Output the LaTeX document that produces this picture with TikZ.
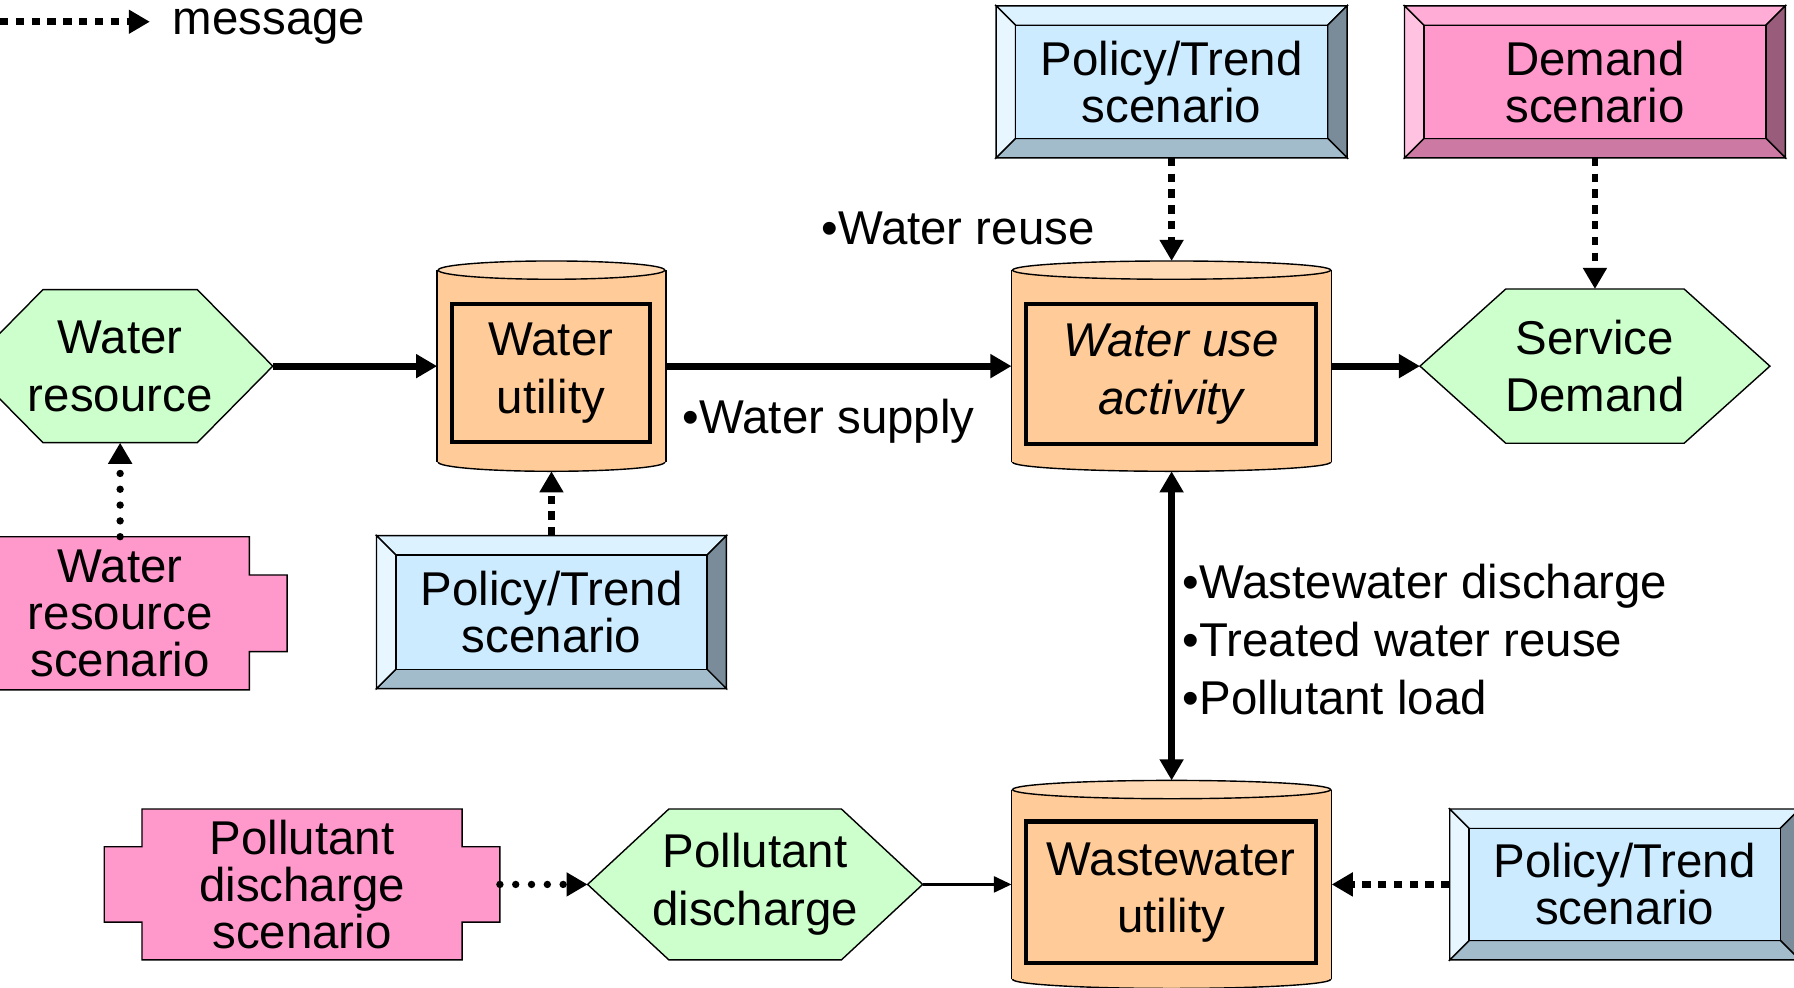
\documentclass[tikz,border=0pt]{standalone}
\usepackage{fontspec}
\setmainfont{Liberation Sans}
\usetikzlibrary{arrows.meta,calc,backgrounds}
\definecolor{hexgreen}{HTML}{CCFFCC}
\definecolor{cylbody}{HTML}{FFCC99}
\definecolor{cyltop}{HTML}{FFDAB5}
\definecolor{pinkbox}{HTML}{FF99CC}
\definecolor{bluA}{HTML}{CCEBFF}
\definecolor{bluB}{HTML}{DDF2FF}
\definecolor{bluC}{HTML}{E8F6FF}
\definecolor{bluD}{HTML}{7A8C99}
\definecolor{bluE}{HTML}{A3BCCC}
\definecolor{pnkA}{HTML}{FF99CC}
\definecolor{pnkB}{HTML}{FFADD6}
\definecolor{pnkC}{HTML}{FFC2E0}
\definecolor{pnkD}{HTML}{995C7A}
\definecolor{pnkE}{HTML}{CC7AA3}
\newlength{\dpx}\setlength{\dpx}{0.011441cm}

\begin{document}
\begin{tikzpicture}[x=0.011441cm, y=-0.011441cm, line width=0.6pt, font=\fontsize{13.5}{16.4}\selectfont]
   \tikzstyle{box}=[inner sep=0pt, align=center]
   \tikzstyle{scen}=[box, font=\fontsize{13.5}{13.4}\selectfont]
   \tikzstyle{inbox}=[box, draw, line width=1.2pt, fill=cylbody]
   \tikzstyle{flow}=[-{Triangle[length=6pt, width=6.5pt]}, line width=2pt]
   \tikzstyle{thinflow}=[-{Triangle[length=5pt, width=4.5pt]}, line width=0.8pt]
   \tikzstyle{msg}=[-{Triangle[length=6pt, width=6.5pt]}, line width=1.9pt, dash pattern=on 2.4pt off 2.1pt]
   \tikzstyle{msgdot}=[-{Triangle[length=6pt, width=6.5pt]}, line width=2.1pt, line cap=round, dash pattern=on 0pt off 4.5pt]
   \useasboundingbox (0,0) rectangle (1568,863);

   % legend
   \coordinate (legstart) at (0,19);
   \coordinate (legtip) at (131,19);
   \draw[msg] (legstart) -- (legtip);
   \node[anchor=base west, inner sep=0pt] (legtext) at (150,30) {message};

   % scenarios
   \node[scen, minimum width=305\dpx, minimum height=131\dpx] (polA) at (1024,71.5) {Policy/Trend\\scenario};
   \node[scen, minimum width=331\dpx, minimum height=131\dpx] (demand) at (1394,71.5) {Demand\\scenario};
   \node[scen, minimum width=304\dpx, minimum height=132\dpx] (polB) at (482,535) {Policy/Trend\\scenario};
   \node[scen, minimum width=304\dpx, minimum height=130\dpx] (polC) at (1420,773) {Policy/Trend\\scenario};
   \node[scen, minimum width=290\dpx, minimum height=132\dpx] (wrs) at (105,536) {Water\\resource\\scenario};
   \node[scen, minimum width=344\dpx, minimum height=130\dpx] (pds) at (264,773) {Pollutant\\discharge\\scenario};

   % hexagons
   \node[box, minimum width=265\dpx, minimum height=132\dpx] (wres) at (105,320) {Water\\resource};
   \node[box, minimum width=304\dpx, minimum height=133\dpx] (sdem) at (1394,320) {Service\\Demand};
   \node[box, minimum width=291\dpx, minimum height=130\dpx] (pdis) at (660,773) {Pollutant\\discharge};

   % cylinders
   \node[box, minimum width=198\dpx, minimum height=182\dpx] (utility) at (482,320) {};
   \node[box, minimum width=278\dpx, minimum height=182\dpx] (activity) at (1024,320) {};
   \node[box, minimum width=278\dpx, minimum height=180\dpx] (wastewater) at (1024,773) {};
   \node[inbox, minimum width=173\dpx, minimum height=121\dpx] (utilitytxt) at (481.5,326) {Water\\utility};
   \node[inbox, minimum width=253\dpx, minimum height=122\dpx, font=\fontsize{13.5}{16.4}\selectfont\itshape] (activitytxt) at (1023.5,327) {Water use\\activity};
   \node[inbox, minimum width=253\dpx, minimum height=124\dpx] (wastewatertxt) at (1023.5,780) {Wastewater\\utility};

   \node[anchor=west, inner sep=0pt] (reuse) at (717,200) {•Water reuse};
   \node[anchor=west, inner sep=0pt] (supply) at (596,368) {•Water supply};
   \node[anchor=west, inner sep=0pt, align=left] (exchange) at (1033,559) {•Wastewater discharge\\•Treated water reuse\\•Pollutant load};

   \draw[flow] (wres) -- (utility);
   \draw[flow] (utility) -- (activity);
   \draw[flow] (activity) -- (sdem);
   \draw[flow, {Triangle[length=6pt, width=6.5pt]}-{Triangle[length=6pt, width=6.5pt]}] (activity) -- (wastewater);
   \draw[thinflow] (pdis) -- (wastewater);
   \draw[msg] (polA) -- (activity);
   \draw[msg] (demand) -- (sdem);
   \draw[msg] (polB) -- (utility);
   \draw[msg] (polC) -- (wastewater);
   \draw[msgdot] (wrs) -- (wres);
   \draw[msgdot] (pds) -- (pdis);

   \begin{scope}[on background layer]
   \foreach \n/\d in {wres/66, sdem/75, pdis/71}
       \draw[fill=hexgreen] (\n.west) -- ($(\n.north west)+(\d,0)$) -- ($(\n.north east)+(-\d,0)$) -- (\n.east)
           -- ($(\n.south east)+(-\d,0)$) -- ($(\n.south west)+(\d,0)$) -- cycle;
   \foreach \n/\r in {utility/99, activity/139, wastewater/139} {
       \draw[fill=cylbody] ($(\n.south)+(0,-8)$) ellipse [x radius=\r, y radius=8];
       \fill[cylbody] ($(\n.north west)+(0,8)$) rectangle ($(\n.south east)+(0,-8)$);
       \draw ($(\n.north west)+(0,8)$) -- ($(\n.south west)+(0,-8)$)
             ($(\n.north east)+(0,8)$) -- ($(\n.south east)+(0,-8)$);
       \draw[fill=cyltop] ($(\n.north)+(0,8)$) ellipse [x radius=\r, y radius=8];
   }
   \foreach \n in {wrs, pds}
       \draw[fill=pinkbox] ($(\n.north west)+(33,0)$) -- ($(\n.north east)+(-33,0)$)
           -- ($(\n.north east)!0.25!(\n.south east)+(-33,0)$) -- ($(\n.north east)!0.25!(\n.south east)$)
           -- ($(\n.north east)!0.75!(\n.south east)$) -- ($(\n.north east)!0.75!(\n.south east)+(-33,0)$)
           -- ($(\n.south east)+(-33,0)$) -- ($(\n.south west)+(33,0)$)
           -- ($(\n.south west)!0.25!(\n.north west)+(33,0)$) -- ($(\n.south west)!0.25!(\n.north west)$)
           -- ($(\n.south west)!0.75!(\n.north west)$) -- ($(\n.south west)!0.75!(\n.north west)+(33,0)$) -- cycle;
   \foreach \n/\col in {polA/blu, polB/blu, polC/blu, demand/pnk} {
       \coordinate (a) at ($(\n.north west)+(17,17)$);
       \coordinate (b) at ($(\n.north east)+(-17,17)$);
       \coordinate (c) at ($(\n.south east)+(-17,-17)$);
       \coordinate (d) at ($(\n.south west)+(17,-17)$);
       \draw[fill=\col B] (\n.north west) -- (\n.north east) -- (b) -- (a) -- cycle;
       \draw[fill=\col D] (\n.north east) -- (\n.south east) -- (c) -- (b) -- cycle;
       \draw[fill=\col E] (\n.south east) -- (\n.south west) -- (d) -- (c) -- cycle;
       \draw[fill=\col C] (\n.south west) -- (\n.north west) -- (a) -- (d) -- cycle;
       \draw[fill=\col A] (a) rectangle (c);
   }
   \end{scope}
\end{tikzpicture}
\end{document}
